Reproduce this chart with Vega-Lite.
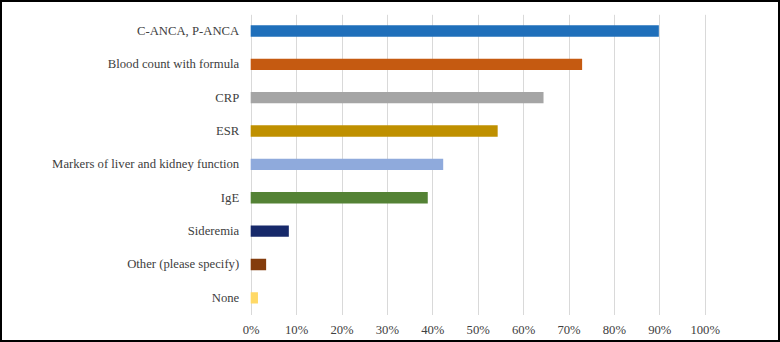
{
  "$schema": "https://vega.github.io/schema/vega-lite/v6.json",
  "width": 778,
  "height": 340,
  "padding": 1,
  "autosize": {"type": "none"},
  "background": "#ffffff",
  "config": {
    "view": {"stroke": "#000000", "strokeWidth": 2},
    "font": "Liberation Serif",
    "axis": {"labelFont": "Liberation Serif", "labelColor": "#404040", "labelFontSize": 12.7}
  },
  "data": {
    "values": [
      {"item": "C-ANCA, P-ANCA", "pct": 0.899},
      {"item": "Blood count with formula", "pct": 0.730},
      {"item": "CRP", "pct": 0.645},
      {"item": "ESR", "pct": 0.544},
      {"item": "Markers of liver and kidney function", "pct": 0.424},
      {"item": "IgE", "pct": 0.390},
      {"item": "Sideremia", "pct": 0.084},
      {"item": "Other (please specify)", "pct": 0.034},
      {"item": "None", "pct": 0.016}
    ]
  },
  "resolve": {"axis": {"x": "independent"}},
  "layer": [
    {
      "mark": {"type": "bar"},
      "encoding": {
        "y": {
          "field": "item", "type": "nominal", "sort": null,
          "scale": {"range": [13.3, 313.5], "paddingInner": 0.66, "paddingOuter": 0.33},
          "axis": {"orient": "left", "offset": -249.7, "title": null, "domain": false, "ticks": false, "labelPadding": 12, "grid": false, "labelLimit": 300}
        },
        "x": {
          "field": "pct", "type": "quantitative",
          "scale": {"domain": [-0.55, 1.163656], "nice": false, "zero": false},
          "axis": {"orient": "top", "values": [0, 0.1, 0.2, 0.3, 0.4, 0.5, 0.6, 0.7, 0.8, 0.9, 1], "grid": true, "gridColor": "#d9d9d9", "gridOpacity": 1, "labels": false, "ticks": false, "domain": false, "title": null}
        },
        "color": {
          "field": "item", "type": "nominal",
          "scale": {
            "domain": ["C-ANCA, P-ANCA", "Blood count with formula", "CRP", "ESR", "Markers of liver and kidney function", "IgE", "Sideremia", "Other (please specify)", "None"],
            "range": ["#1f6fba", "#c55a11", "#a5a5a5", "#bf9000", "#8faadc", "#548235", "#17296a", "#843c0c", "#ffd966"]
          },
          "legend": null
        }
      }
    },
    {
      "mark": {"type": "bar", "opacity": 0},
      "encoding": {
        "y": {"field": "item", "type": "nominal", "sort": null},
        "x": {
          "field": "pct", "type": "quantitative",
          "axis": {"orient": "bottom", "values": [0, 0.1, 0.2, 0.3, 0.4, 0.5, 0.6, 0.7, 0.8, 0.9, 1], "format": ".0%", "grid": false, "ticks": false, "domain": false, "offset": -26.5, "labelPadding": 9, "title": null}
        }
      }
    }
  ]
}
